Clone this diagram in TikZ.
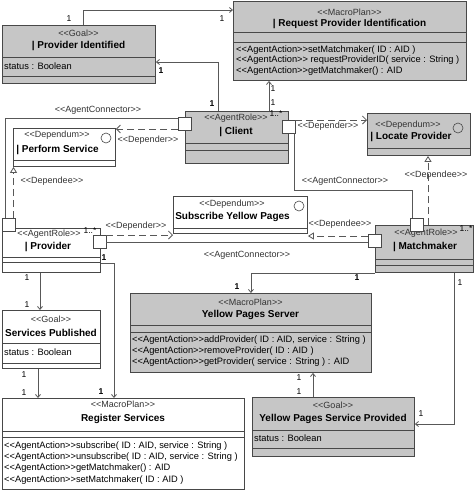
\documentclass[tikz,border=0pt]{standalone}
\usepackage{fontspec}
\setmainfont{Liberation Sans}
\usetikzlibrary{arrows.meta}
\definecolor{umlgray}{HTML}{C6C6C6}
\definecolor{umlline}{HTML}{484848}
\definecolor{wireline}{HTML}{585858}
\newcommand\stp[1]{<\kern0pt<#1>\kern0pt>}
\tikzset{
    box/.style={draw=umlline, line width=0.9pt, anchor=north west, inner sep=0pt},
    graybox/.style={box, fill=umlgray},
    whitebox/.style={box, fill=white},
    port/.style={draw=umlline, fill=white, line width=0.8pt, minimum size=13pt,
    	inner sep=0pt},
    sep/.style={draw=umlline, line width=0.8pt},
    ball/.style={circle, draw=umlline, line width=0.6pt, minimum size=10pt, inner sep=0pt}
}
\tikzset{
    stereo/.style={font=\fontsize{9}{10}\selectfont, text=black!80, inner sep=0pt},
    title/.style={font=\fontsize{10}{12}\selectfont\bfseries, inner sep=0pt},
    attr/.style={font=\fontsize{9.3}{10}\selectfont, inner sep=0pt, anchor=west},
    tag/.style={font=\fontsize{9}{10}\selectfont, text=black!80, inner sep=0pt},
    mult/.style={font=\fontsize{8.5}{9}\selectfont, inner sep=0pt},
    bmult/.style={mult, font=\fontsize{8.5}{9}\selectfont\bfseries}
}
\tikzset{
    wire/.style={draw=wireline, line width=0.8pt},
    assoc/.style={wire, -{Straight Barb[length=3pt, width=5pt]}},
    depender/.style={wire, dash pattern=on 7pt off 4pt,
    	-{Straight Barb[length=4pt, width=8pt]}},
    dependee/.style={wire, dash pattern=on 7pt off 4pt,
    	-{Triangle[open, length=6pt, width=7pt]}}
}

\begin{document}
\begin{tikzpicture}[x=1pt, y=-1pt]
	\useasboundingbox (0,0) rectangle (474,491);

	% boxes
	\node (pid) [graybox, minimum width=153pt, minimum height=58pt] at (2,25) {};
	\node (rpi) [graybox, minimum width=233pt, minimum height=79pt] at (233,1) {};
	\node (cl) [graybox, minimum width=103pt, minimum height=52pt] at (185,111) {};
	\node (ps) [whitebox, minimum width=102pt, minimum height=38pt] at (13,128) {};
	\node (lp) [graybox, minimum width=103pt, minimum height=42pt] at (367,113) {};
	\node (syp) [whitebox, minimum width=134pt, minimum height=37pt] at (173,196) {};
	\node (pr) [whitebox, minimum width=98pt, minimum height=44pt] at (2,228) {};
	\node (mm) [graybox, minimum width=98pt, minimum height=47pt] at (375,225) {};
	\node (yps) [graybox, minimum width=241pt, minimum height=79pt] at (130,293) {};
	\node (sp) [whitebox, minimum width=98pt, minimum height=58pt] at (2,310) {};
	\node (rs) [whitebox, minimum width=242pt, minimum height=91pt] at (2,398) {};
	\node (ypsp) [graybox, minimum width=162pt, minimum height=59pt] at (252,397) {};

	% compartments
	\draw[sep] (pid.west |- 0,57) -- (pid.east |- 0,57);
	\draw[sep] (pid.west |- 0,76) -- (pid.east |- 0,76);
	\draw[sep] (rpi.west |- 0,32) -- (rpi.east |- 0,32);
	\draw[sep] (rpi.west |- 0,42) -- (rpi.east |- 0,42);
	\draw[sep] (cl.west |- 0,143) -- (cl.east |- 0,143);
	\draw[sep] (cl.west |- 0,150) -- (cl.east |- 0,150);
	\draw[sep] (ps.west |- 0,160) -- (ps.east |- 0,160);
	\draw[sep] (lp.west |- 0,148) -- (lp.east |- 0,148);
	\draw[sep] (syp.west |- 0,228) -- (syp.east |- 0,228);
	\draw[sep] (pr.west |- 0,257) -- (pr.east |- 0,257);
	\draw[sep] (pr.west |- 0,262) -- (pr.east |- 0,262);
	\draw[sep] (mm.west |- 0,259) -- (mm.east |- 0,259);
	\draw[sep] (mm.west |- 0,265) -- (mm.east |- 0,265);
	\draw[sep] (yps.west |- 0,325) -- (yps.east |- 0,325);
	\draw[sep] (yps.west |- 0,332) -- (yps.east |- 0,332);
	\draw[sep] (sp.west |- 0,343) -- (sp.east |- 0,343);
	\draw[sep] (sp.west |- 0,363) -- (sp.east |- 0,363);
	\draw[sep] (rs.west |- 0,431) -- (rs.east |- 0,431);
	\draw[sep] (rs.west |- 0,437) -- (rs.east |- 0,437);
	\draw[sep] (ypsp.west |- 0,430) -- (ypsp.east |- 0,430);
	\draw[sep] (ypsp.west |- 0,448) -- (ypsp.east |- 0,448);

	% texts
	\node (pid-s) [stereo] at (78.5,33) {\stp{Goal}};
	\node (pid-t) [title] at (78.5,46) {| Provider Identified};
	\node (pid-a) [attr] at (4,66) {status : Boolean};

	\node (rpi-s) [stereo] at (349.5,12) {\stp{MacroPlan}};
	\node (rpi-t) [title] at (349.5,24) {| Request Provider Identification};
	\node (rpi-a1) [attr] at (236,50) {\stp{AgentAction}setMatchmaker( ID : AID )};
	\node (rpi-a2) [attr] at (236,60.5) {\stp{AgentAction} requestProviderID( service : String )};
	\node (rpi-a3) [attr] at (236,71) {\stp{AgentAction}getMatchmaker() : AID};

	\node (cl-s) [stereo] at (236,118) {\stp{AgentRole}};
	\node (cl-m) [mult] at (276,114) {1..*};
	\node (cl-t) [title] at (236,132) {| Client};

	\node (ps-s) [stereo] at (57,135) {\stp{Dependum}};
	\node (ps-t) [title] at (57.5,150) {| Perform Service};
	\node (ps-b) [ball] at (106,138) {};

	\node (lp-s) [stereo] at (408,125) {\stp{Dependum}};
	\node (lp-t) [title] at (411,137) {| Locate Provider};
	\node (lp-b) [ball] at (458,128) {};

	\node (syp-s) [stereo] at (232,204) {\stp{Dependum}};
	\node (syp-t) [title] at (232.5,217) {Subscribe Yellow Pages};
	\node (syp-b) [ball] at (299,206) {};

	\node (pr-s) [stereo] at (49,234) {\stp{AgentRole}};
	\node (pr-m) [mult] at (90,231) {1..*};
	\node (pr-t) [title] at (48,247) {| Provider};

	\node (mm-s) [stereo] at (426,233) {\stp{AgentRole}};
	\node (mm-m) [mult] at (466,229) {1..*};
	\node (mm-t) [title] at (425,247) {| Matchmaker};

	\node (yps-s) [stereo] at (250.5,302) {\stp{MacroPlan}};
	\node (yps-t) [title] at (250.5,315) {Yellow Pages Server};
	\node (yps-a1) [attr] at (132,340) {\stp{AgentAction}addProvider( ID : AID, service : String )};
	\node (yps-a2) [attr] at (132,351) {\stp{AgentAction}removeProvider( ID : AID )};
	\node (yps-a3) [attr] at (132,362) {\stp{AgentAction}getProvider( service : String ) : AID};

	\node (sp-s) [stereo] at (51,319) {\stp{Goal}};
	\node (sp-t) [title] at (51,333) {Services Published};
	\node (sp-a) [attr] at (4,352) {status : Boolean};

	\node (rs-s) [stereo] at (123,404) {\stp{MacroPlan}};
	\node (rs-t) [title] at (123,419) {Register Services};
	\node (rs-a1) [attr] at (4,446) {\stp{AgentAction}subscribe( ID : AID, service : String )};
	\node (rs-a2) [attr] at (4,457) {\stp{AgentAction}unsubscribe( ID : AID, service : String )};
	\node (rs-a3) [attr] at (4,468.5) {\stp{AgentAction}getMatchmaker() : AID};
	\node (rs-a4) [attr] at (4,480) {\stp{AgentAction}setMatchmaker( ID : AID )};

	\node (ypsp-s) [stereo] at (333,405) {\stp{Goal}};
	\node (ypsp-t) [title] at (333,419) {Yellow Pages Service Provided};
	\node (ypsp-a) [attr] at (254,438) {status : Boolean};

	% associations
	\draw[assoc] (pid.north -| 83,0) |- (rpi.west |- 0,10);
	\draw[assoc] (cl.north -| 218,0) |- (pid.east |- 0,62);
	\draw[assoc] (cl.north -| 269,0) -- (rpi.south -| 269,0);
	\draw[assoc] (mm.south west) -| (yps.north);
	\draw[assoc] (mm.south -| 454,0) |- (ypsp.east |- 0,424);
	\draw[assoc] (ypsp.north -| 313,0) -- (yps.south -| 313,0);
	\draw[assoc] (pr.south -| 40,0) -- (sp.north -| 40,0);
	\draw[assoc] (sp.south -| 38,0) -- (rs.north -| 38,0);
	\draw[assoc] (pr.east |- 0,263) -| (rs.north -| 114,0);

	% ports
	\node (clL) [port] at (185,124) {};
	\node (clR) [port] at (288.5,126.5) {};
	\node (prT) [port] at (9,225) {};
	\node (prR) [port] at (99.5,241.5) {};
	\node (mmT) [port] at (417,225) {};
	\node (mmL) [port] at (375,241) {};

	% agent connectors
	\draw[wire] (clL.west |- 0,118) -| (prT.north -| 5,0);
	\draw[wire] (clR.south -| 294,0) |- ([xshift=-5pt]mmT.north |- 0,190)
		-- ([xshift=-5pt]mmT.north);
	\draw[wire] (prR.east |- 0,242) -- (mmL.west |- 0,242);

	% dependencies
	\draw[depender] (clL.west |- 0,129) -- (ps.east |- 0,129);
	\draw[depender] (clR.east |- 0,120) -- (lp.west |- 0,120);
	\draw[depender] (prR.east |- 0,235) -- (syp.south west |- 0,235);
	\draw[dependee] (prT.north -| 13.5,0) -- (ps.south -| 13.5,0);
	\draw[dependee] (mm.north -| 428,0) -- (lp.south -| 428,0);
	\draw[dependee] (mmL.west |- 0,236) -- (syp.south east |- 0,236);

	% connector labels
	\node (ac1) [tag] at (98,110) {\stp{AgentConnector}};
	\node (ac2) [tag] at (345,181) {\stp{AgentConnector}};
	\node (ac3) [tag] at (247,255) {\stp{AgentConnector}};
	\node (dr1) [tag] at (148,140) {\stp{Depender}};
	\node (dr2) [tag] at (328,126) {\stp{Depender}};
	\node (dr3) [tag] at (136,226) {\stp{Depender}};
	\node (de1) [tag] at (52,181) {\stp{Dependee}};
	\node (de2) [tag] at (436,175) {\stp{Dependee}};
	\node (de3) [tag] at (340,224) {\stp{Dependee}};

	% multiplicities
	\node (m1) [mult] at (69,19) {1};
	\node (m2) [mult] at (222,19) {1};
	\node (m3) [bmult] at (161,71) {1};
	\node (m4) [bmult] at (212,104) {1};
	\node (m5) [mult] at (273,89) {1};
	\node (m6) [mult] at (273,103) {1};
	\node (m7) [bmult] at (357,278) {1};
	\node (m8) [bmult] at (237,287) {1};
	\node (m9) [mult] at (460,283) {1};
	\node (m10) [mult] at (421,414) {1};
	\node (m11) [mult] at (299,378) {1};
	\node (m12) [mult] at (299,392) {1};
	\node (m13) [mult] at (27,278) {1};
	\node (m14) [mult] at (27,305) {1};
	\node (m15) [mult] at (24,375) {1};
	\node (m16) [mult] at (24,393) {1};
	\node (m17) [bmult] at (104,258) {1};
	\node (m18) [bmult] at (101,392) {1};
\end{tikzpicture}
\end{document}
